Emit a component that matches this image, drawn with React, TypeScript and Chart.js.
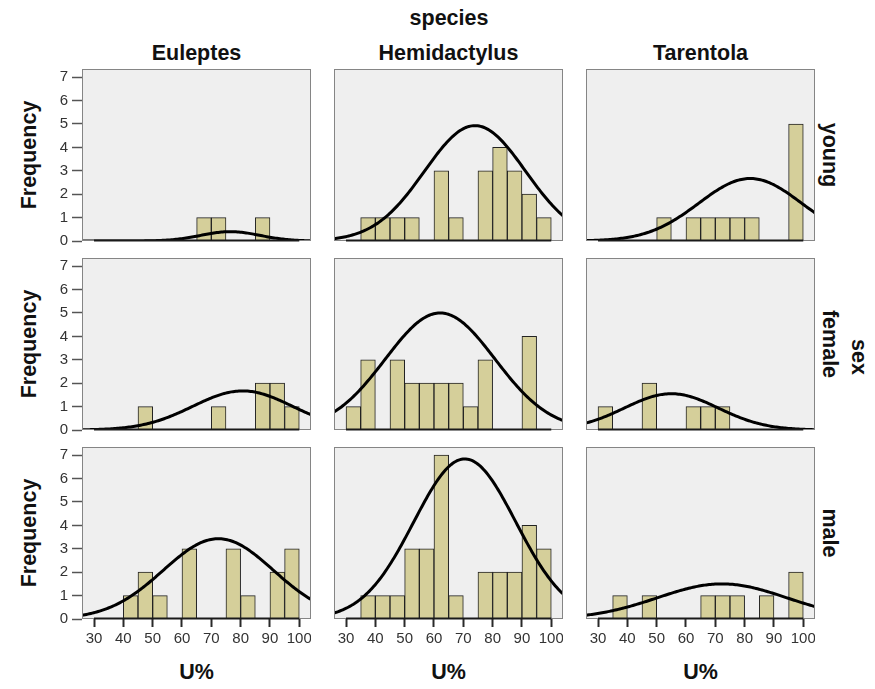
import React, { useEffect, useRef } from "react";
import { Chart, registerables } from "chart.js";

Chart.register(...registerables);

// ---------- data ----------
const speciesNames = ["Euleptes", "Hemidactylus", "Tarentola"];
const sexNames = ["young", "female", "male"];
const xTickValues = [30, 40, 50, 60, 70, 80, 90, 100];
const yTickValues = [0, 1, 2, 3, 4, 5, 6, 7];
const xAxisMin = 25.9;
const xAxisMax = 104;
const yAxisMax = 7.35;
const binWidth = 5;

// bin lower edges (U%) and frequencies per panel
const youngEuleptesBins = [65, 70, 85];
const youngEuleptesFreq = [1, 1, 1];
const youngHemidactylusBins = [35, 40, 45, 50, 60, 65, 75, 80, 85, 90, 95];
const youngHemidactylusFreq = [1, 1, 1, 1, 3, 1, 3, 4, 3, 2, 1];
const youngTarentolaBins = [50, 60, 65, 70, 75, 80, 95];
const youngTarentolaFreq = [1, 1, 1, 1, 1, 1, 5];

const femaleEuleptesBins = [45, 70, 85, 90, 95];
const femaleEuleptesFreq = [1, 1, 2, 2, 1];
const femaleHemidactylusBins = [30, 35, 45, 50, 55, 60, 65, 70, 75, 90];
const femaleHemidactylusFreq = [1, 3, 3, 2, 2, 2, 2, 1, 3, 4];
const femaleTarentolaBins = [30, 45, 60, 65, 70];
const femaleTarentolaFreq = [1, 2, 1, 1, 1];

const maleEuleptesBins = [40, 45, 50, 60, 75, 80, 90, 95];
const maleEuleptesFreq = [1, 2, 1, 3, 3, 1, 2, 3];
const maleHemidactylusBins = [35, 40, 45, 50, 55, 60, 65, 75, 80, 85, 90, 95];
const maleHemidactylusFreq = [1, 1, 1, 3, 3, 7, 1, 2, 2, 2, 4, 3];
const maleTarentolaBins = [35, 45, 65, 70, 75, 85, 95];
const maleTarentolaFreq = [1, 1, 1, 1, 1, 1, 2];

// fitted normal curve: [mean, sd, peak height]
const youngEuleptesCurve = [76.5, 10, 0.4];
const youngHemidactylusCurve = [74, 17.2, 4.93];
const youngTarentolaCurve = [81.9, 17.5, 2.67];
const femaleEuleptesCurve = [80.7, 17, 1.67];
const femaleHemidactylusCurve = [62.1, 18.7, 5.0];
const femaleTarentolaCurve = [55, 16, 1.55];
const maleEuleptesCurve = [72.4, 18.8, 3.43];
const maleHemidactylusCurve = [70.5, 17.4, 6.84];
const maleTarentolaCurve = [72.3, 22, 1.5];

const panels = [
  [
    [youngEuleptesBins, youngEuleptesFreq, youngEuleptesCurve],
    [youngHemidactylusBins, youngHemidactylusFreq, youngHemidactylusCurve],
    [youngTarentolaBins, youngTarentolaFreq, youngTarentolaCurve],
  ],
  [
    [femaleEuleptesBins, femaleEuleptesFreq, femaleEuleptesCurve],
    [femaleHemidactylusBins, femaleHemidactylusFreq, femaleHemidactylusCurve],
    [femaleTarentolaBins, femaleTarentolaFreq, femaleTarentolaCurve],
  ],
  [
    [maleEuleptesBins, maleEuleptesFreq, maleEuleptesCurve],
    [maleHemidactylusBins, maleHemidactylusFreq, maleHemidactylusCurve],
    [maleTarentolaBins, maleTarentolaFreq, maleTarentolaCurve],
  ],
];

// ---------- layout / style ----------
const colLeft = [82, 334, 586];
const rowTop = [69, 258, 447];
const PW = 229;
const PH = 172;
const YAXIS_W = 50;
const XAXIS_H = 40;
const PAD_T = 10;
const PAD_B = 10;

const TICK_FONT = "'Liberation Sans Narrow', 'Liberation Sans', Arial, sans-serif";
const LABEL_FONT = "'Liberation Sans', Arial, Helvetica, sans-serif";

const panelPlugin = {
  id: "panelBox",
  beforeDraw(chart: any) {
    const { ctx, chartArea: a } = chart;
    ctx.save();
    ctx.fillStyle = "#efefef";
    ctx.fillRect(a.left, a.top, a.right - a.left, a.bottom - a.top);
    ctx.restore();
  },
  afterDatasetsDraw(chart: any) {
    const { ctx, chartArea: a } = chart;
    const xs = chart.scales.x;
    ctx.save();
    ctx.strokeStyle = "#858585";
    ctx.lineWidth = 1;
    ctx.strokeRect(a.left + 0.5, a.top + 0.5, a.right - a.left - 1, a.bottom - a.top - 1);
    ctx.strokeStyle = "#1a1a1a";
    ctx.lineWidth = 2;
    ctx.beginPath();
    ctx.moveTo(xs.getPixelForValue(xTickValues[0]), a.bottom - 0.5);
    ctx.lineTo(xs.getPixelForValue(xTickValues[xTickValues.length - 1]), a.bottom - 0.5);
    ctx.stroke();
    ctx.restore();
  },
};

function curvePoints(params: number[]) {
  const [mean, sd, peak] = params;
  const pts: { x: number; y: number }[] = [];
  for (let x = xAxisMin; x <= xAxisMax + 0.001; x += 0.5) {
    pts.push({ x, y: peak * Math.exp(-((x - mean) ** 2) / (2 * sd * sd)) });
  }
  return pts;
}

function Panel({ r, c }: { r: number; c: number }) {
  const ref = useRef<HTMLCanvasElement>(null);
  const showY = c === 0;
  const showX = r === 2;
  const w = PW + (showY ? YAXIS_W : 0);
  const h = PAD_T + PH + (showX ? XAXIS_H : PAD_B);
  const left = colLeft[c] - (showY ? YAXIS_W : 0);
  const top = rowTop[r] - PAD_T;

  useEffect(() => {
    const [bins, freq, curve] = panels[r][c] as [number[], number[], number[]];
    const barData = bins.map((b, i) => ({ x: b + binWidth / 2, y: freq[i] }));
    const chart = new Chart(ref.current as HTMLCanvasElement, {
      type: "bar",
      data: {
        datasets: [
          {
            type: "line",
            data: curvePoints(curve),
            borderColor: "#000",
            borderWidth: 3,
            pointRadius: 0,
            tension: 0,
            order: 0,
          } as any,
          {
            type: "bar",
            data: barData,
            backgroundColor: "#d5cf9a",
            borderColor: "#222",
            borderWidth: 1,
            barPercentage: 1,
            categoryPercentage: 1,
            order: 1,
          } as any,
        ],
      },
      options: {
        animation: false,
        responsive: false,
        devicePixelRatio: 1,
        layout: { padding: { top: PAD_T, bottom: showX ? 0 : PAD_B, left: 0, right: 0 } },
        plugins: { legend: { display: false }, tooltip: { enabled: false } },
        scales: {
          x: {
            type: "linear",
            min: xAxisMin,
            max: xAxisMax,
            offset: false,
            display: showX,
            afterBuildTicks: (s: any) => {
              s.ticks = xTickValues.map((v) => ({ value: v }));
            },
            afterFit: showX
              ? (s: any) => {
                  s.height = XAXIS_H;
                  s.paddingLeft = 0;
                  s.paddingRight = 0;
                }
              : undefined,
            grid: {
              display: true,
              offset: false,
              drawOnChartArea: false,
              drawTicks: true,
              tickLength: 8,
              tickWidth: 2,
              tickColor: "#2a2a2a",
            },
            border: { display: false },
            ticks: {
              padding: 3,
              color: "#333",
              font: { family: TICK_FONT, size: 15 },
              maxRotation: 0,
              autoSkip: false,
            },
          },
          y: {
            type: "linear",
            min: 0,
            max: yAxisMax,
            display: showY,
            afterBuildTicks: (s: any) => {
              s.ticks = yTickValues.map((v) => ({ value: v }));
            },
            afterFit: showY
              ? (s: any) => {
                  s.width = YAXIS_W;
                  s.paddingTop = 0;
                  s.paddingBottom = 0;
                }
              : undefined,
            grid: {
              display: true,
              drawOnChartArea: false,
              drawTicks: true,
              tickLength: 10,
              tickWidth: 1.5,
              tickColor: "#555",
            },
            border: { display: false },
            ticks: {
              padding: 4,
              color: "#333",
              font: { family: TICK_FONT, size: 15 },
              autoSkip: false,
            },
          },
        },
      },
      plugins: [panelPlugin],
    });
    return () => chart.destroy();
  }, [r, c]);

  return (
    <canvas
      ref={ref}
      width={w}
      height={h}
      style={{ position: "absolute", left, top, width: w, height: h }}
    />
  );
}

const textStyle: React.CSSProperties = {
  position: "absolute",
  fontFamily: LABEL_FONT,
  fontWeight: "bold",
  fontSize: 21.5,
  color: "#111",
  whiteSpace: "nowrap",
  lineHeight: 1,
};

function Label({ x, y, rot = 0, text, size = 21.5 }: { x: number; y: number; rot?: number; text: string; size?: number }) {
  return (
    <div
      style={{
        ...textStyle,
        fontSize: size,
        left: x,
        top: y,
        transform: `translate(-50%, -50%) rotate(${rot}deg)`,
      }}
    >
      {text}
    </div>
  );
}

export default function App() {
  const colCenters = colLeft.map((l) => l + PW / 2);
  const rowCenters = rowTop.map((t) => t + PH / 2);
  return (
    <div
      style={{
        position: "fixed",
        left: 0,
        top: 0,
        width: 875,
        height: 689,
        background: "#fff",
        overflow: "hidden",
      }}
    >
      <Label x={449} y={19} text="species" />
      {speciesNames.map((s, c) => (
        <Label key={"h" + s} x={colCenters[c]} y={54} text={s} />
      ))}
      {speciesNames.map((s, c) => (
        <Label key={"u" + s} x={colCenters[c]} y={673} text="U%" />
      ))}
      {sexNames.map((s, r) => (
        <Label key={"f" + s} x={30} y={rowCenters[r]} rot={-90} text="Frequency" />
      ))}
      {sexNames.map((s, r) => (
        <Label key={"r" + s} x={829} y={rowCenters[r]} rot={90} text={s} />
      ))}
      <Label x={858} y={357} rot={90} text="sex" />
      {[0, 1, 2].map((r) => [0, 1, 2].map((c) => <Panel key={`${r}-${c}`} r={r} c={c} />))}
    </div>
  );
}
